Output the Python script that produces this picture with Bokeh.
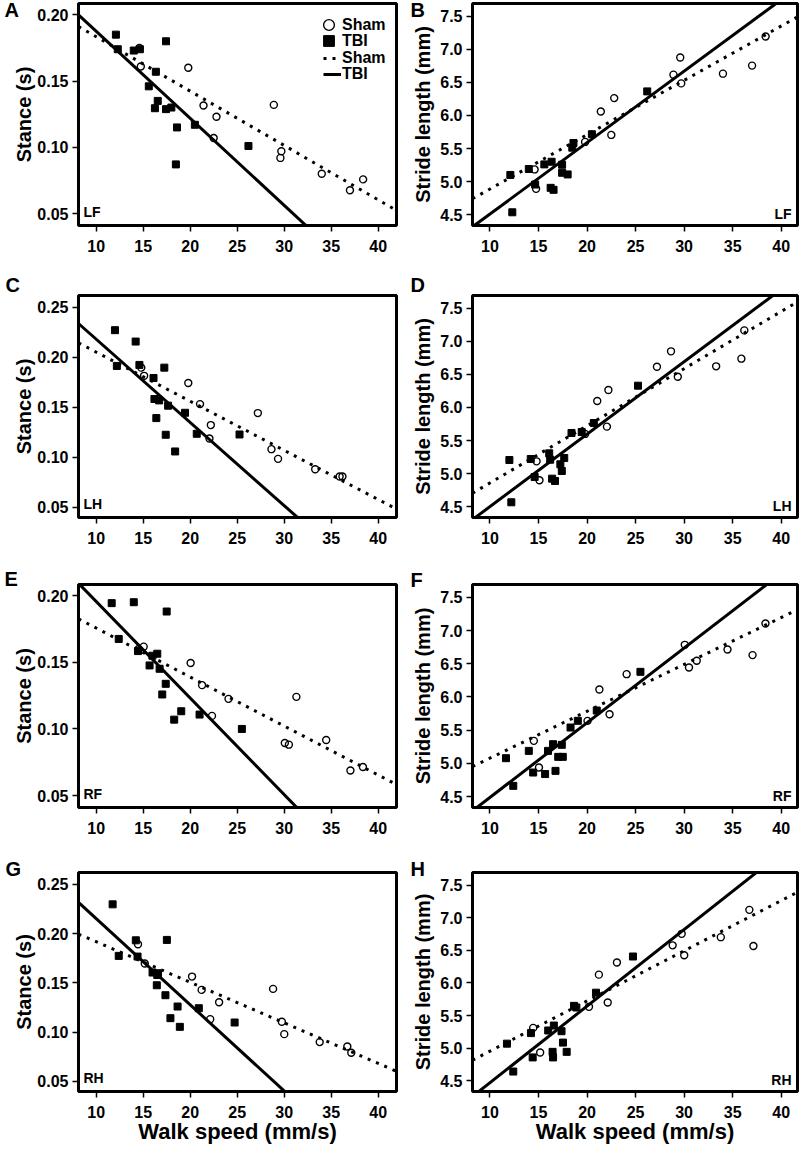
from bokeh.plotting import figure
from bokeh.layouts import column, row
from bokeh.models import Label, Legend, LegendItem, FixedTicker, Title
from bokeh.embed import file_html
from bokeh.resources import INLINE

FONT = "Liberation Sans"

# ---------------- tick values / labels ----------------
x_ticks = [10, 15, 20, 25, 30, 35, 40]
x_tick_labels = ["10", "15", "20", "25", "30", "35", "40"]
stance4_ticks = [0.05, 0.10, 0.15, 0.20]
stance4_labels = ["0.05", "0.10", "0.15", "0.20"]
stance5_ticks = [0.05, 0.10, 0.15, 0.20, 0.25]
stance5_labels = ["0.05", "0.10", "0.15", "0.20", "0.25"]
stride_ticks = [4.5, 5.0, 5.5, 6.0, 6.5, 7.0, 7.5]
stride_labels = ["4.5", "5.0", "5.5", "6.0", "6.5", "7.0", "7.5"]

# ---------------- data: LF (A, B) ----------------
lf_sham_speed = [14.6, 14.75, 19.8, 21.42, 22.5, 22.8, 28.9, 29.6, 29.7, 34.0, 37.0, 38.4]
lf_sham_stance = [0.175, 0.161, 0.160, 0.1315, 0.107, 0.123, 0.132, 0.092, 0.097, 0.080, 0.0676, 0.0758]
lf_sham_stride = [5.184, 4.89, 5.60, 6.06, 5.706, 6.263, 6.618, 6.877, 6.486, 6.633, 6.755, 7.196]
lf_tbi_speed = [12.1, 12.3, 14.0, 14.65, 15.6, 16.25, 16.35, 16.55, 17.43, 17.43, 18.0, 18.48, 18.6, 20.5, 26.2]
lf_tbi_stance = [0.185, 0.174, 0.173, 0.174, 0.146, 0.1295, 0.157, 0.135, 0.180, 0.1288, 0.130, 0.0871, 0.115, 0.117, 0.101]
lf_tbi_stride = [5.10, 4.535, 5.19, 4.955, 5.26, 4.905, 5.30, 4.875, 5.255, 5.133, 5.108, 5.513, 5.584, 5.716, 6.365]

# ---------------- data: LH (C, D) ----------------
lh_sham_speed = [14.8, 15.1, 19.8, 21.05, 22.05, 22.2, 27.2, 28.65, 29.35, 33.3, 35.9, 36.2]
lh_sham_stance = [0.1898, 0.1816, 0.1744, 0.1533, 0.1189, 0.1323, 0.1443, 0.1082, 0.0985, 0.0881, 0.0808, 0.0808]
lh_sham_stride = [5.185, 4.898, 5.60, 6.098, 5.71, 6.264, 6.617, 6.85, 6.466, 6.623, 6.739, 7.167]
lh_tbi_speed = [12.0, 12.2, 14.2, 14.6, 16.1, 16.2, 16.4, 16.7, 17.25, 17.4, 17.65, 18.4, 19.45, 20.7, 25.25]
lh_tbi_stance = [0.2273, 0.1915, 0.2159, 0.1925, 0.1794, 0.1584, 0.1393, 0.157, 0.1898, 0.1226, 0.1517, 0.1059, 0.1446, 0.1236, 0.1229]
lh_tbi_stride = [5.205, 4.565, 5.22, 4.948, 5.306, 5.21, 4.923, 4.888, 5.14, 5.039, 5.236, 5.614, 5.629, 5.765, 6.33]

# ---------------- data: RF (E, F) ----------------
rf_sham_speed = [14.52, 15.05, 20.05, 21.27, 22.32, 24.08, 30.07, 30.5, 31.3, 34.47, 37.05, 38.38]
rf_sham_stance = [0.160, 0.1618, 0.1495, 0.1329, 0.1098, 0.1226, 0.0894, 0.0882, 0.1241, 0.0917, 0.0688, 0.0714]
rf_sham_stride = [5.339, 4.937, 5.64, 6.113, 5.741, 6.344, 6.786, 6.445, 6.545, 6.716, 6.631, 7.108]
rf_tbi_speed = [11.65, 12.4, 14.0, 14.45, 15.68, 15.98, 16.5, 16.75, 17.03, 17.4, 17.5, 18.3, 19.05, 21.0, 25.5]
rf_tbi_stance = [0.1945, 0.1676, 0.1952, 0.1585, 0.1477, 0.155, 0.1565, 0.1452, 0.1259, 0.1339, 0.1882, 0.107, 0.1133, 0.1108, 0.100]
rf_tbi_stride = [5.078, 4.661, 5.188, 4.862, 4.839, 5.188, 5.289, 4.887, 5.098, 5.279, 5.098, 5.54, 5.641, 5.796, 6.379]

# ---------------- data: RH (G, H) ----------------
rh_sham_speed = [14.45, 15.17, 20.2, 21.22, 22.13, 23.08, 28.82, 29.75, 30.01, 33.78, 36.72, 37.14]
rh_sham_stance = [0.1892, 0.1696, 0.1564, 0.1429, 0.1132, 0.1304, 0.1439, 0.1105, 0.098, 0.0899, 0.0855, 0.0791]
rh_sham_stride = [5.311, 4.933, 5.634, 6.128, 5.70, 6.315, 6.577, 6.754, 6.426, 6.703, 7.122, 6.567]
rh_tbi_speed = [11.75, 12.4, 14.22, 14.4, 16.0, 16.45, 16.5, 16.58, 17.37, 17.52, 17.9, 18.66, 18.9, 20.92, 24.73]
rh_tbi_stance = [0.2297, 0.1774, 0.1932, 0.1767, 0.1605, 0.1476, 0.158, 0.1598, 0.1375, 0.1936, 0.1142, 0.126, 0.1054, 0.1243, 0.1098]
rh_tbi_stride = [5.069, 4.641, 5.231, 4.858, 5.271, 4.943, 4.858, 5.347, 5.26, 5.085, 4.943, 5.649, 5.624, 5.851, 6.406]

# ---------------- regression lines (slope, intercept) ----------------
fit_A = {"sham": (-0.0041, 0.2244), "tbi": (-0.00657, 0.2533)}
fit_B = {"sham": (0.0822, 4.066), "tbi": (0.1081, 3.428)}
fit_C = {"sham": (-0.004916, 0.2545), "tbi": (-0.00833, 0.3016)}
fit_D = {"sham": (0.0865, 3.993), "tbi": (0.1096, 3.404)}
fit_E = {"sham": (-0.00368, 0.2126), "tbi": (-0.007253, 0.2683)}
fit_F = {"sham": (0.0706, 4.373), "tbi": (0.1125, 3.362)}
fit_G = {"sham": (-0.004114, 0.2329), "tbi": (-0.00874, 0.3026)}
fit_H = {"sham": (0.0770, 4.184), "tbi": (0.1175, 3.295)}

# axis ranges
x_range_left = (8.12, 41.95)
x_range_right = (8.2, 41.68)
stance4_range = (0.041, 0.2085)
stance5_range = (0.0398, 0.262)
stride_range = (4.335, 7.695)


def style_axis(ax, ticks, labels, standoff, size="16px"):
    ax.ticker = FixedTicker(ticks=ticks)
    ax.major_label_overrides = {t: l for t, l in zip(ticks, labels)}
    ax.axis_line_color = None
    ax.major_tick_out = 6
    ax.major_tick_in = 0
    ax.major_tick_line_width = 1.5
    ax.major_tick_line_color = "black"
    ax.minor_tick_line_color = None
    ax.major_label_text_font = FONT
    ax.major_label_text_font_style = "bold"
    ax.major_label_text_font_size = size
    ax.major_label_text_color = "black"
    ax.major_label_standoff = standoff
    ax.axis_label_text_color = "black"
    ax.axis_label_text_font = FONT
    ax.axis_label_text_font_style = "bold"


def one_legend(label, renderer, vx, vy, gw, gh, standoff):
    return Legend(items=[LegendItem(label=label, renderers=[renderer])],
                  location=(vx, vy), glyph_width=gw, glyph_height=gh,
                  label_height=16, spacing=0, label_standoff=standoff,
                  padding=0, margin=0, background_fill_alpha=0, border_line_alpha=0,
                  label_text_font=FONT, label_text_font_style="bold",
                  label_text_font_size="16px", label_text_color="black", level="overlay")


def make_panel(letter, corner, ylabel, xr, yr, yticks, ylabels, sham_x, sham_y, tbi_x, tbi_y, fit,
               width, height, bl, br, bt, bb, right_side, letter_dx, letter_standoff, letter_valign,
               xlabel=None, legend=False):
    p = figure(width=width, height=height, x_range=xr, y_range=yr,
               output_backend="svg", toolbar_location=None,
               min_border_left=bl, min_border_right=br, min_border_top=bt, min_border_bottom=bb)
    p.grid.visible = False
    p.outline_line_color = "black"
    p.outline_line_width = 3
    p.background_fill_color = "white"
    p.border_fill_color = "white"

    style_axis(p.xaxis[0], x_ticks, x_tick_labels, 8)
    style_axis(p.yaxis[0], yticks, ylabels, 4)
    p.yaxis.axis_label = ylabel
    p.yaxis.axis_label_text_font_size = "20px"
    p.yaxis.axis_label_standoff = 3 if right_side else -1
    if xlabel:
        p.xaxis.axis_label = xlabel
        p.xaxis.axis_label_text_font_size = "22px"
        p.xaxis.axis_label_standoff = -2

    xs = [xr[0], xr[1]]
    ss, si = fit["sham"]
    ts, ti = fit["tbi"]
    sham_line = p.line(xs, [si + ss * v for v in xs], line_color="black", line_width=3,
                       line_dash="3 6")
    tbi_line = p.line(xs, [ti + ts * v for v in xs], line_color="black", line_width=3)
    sham_pts = p.scatter(sham_x, sham_y, marker="circle", size=7, fill_color=None,
                         line_color="black", line_width=1.4)
    tbi_pts = p.scatter(tbi_x, tbi_y, marker="square", size=7, fill_color="black",
                        line_color="black")

    if right_side:
        p.add_layout(Label(x=xr[1], y=yr[0], x_offset=-6, y_offset=12, text=corner,
                           text_align="right", text_baseline="alphabetic", text_color="black",
                           text_font=FONT, text_font_style="bold", text_font_size="14px"))
    else:
        p.add_layout(Label(x=xr[0], y=yr[0], x_offset=5, y_offset=14, text=corner,
                           text_align="left", text_baseline="alphabetic", text_color="black",
                           text_font=FONT, text_font_style="bold", text_font_size="14px"))

    p.add_layout(Title(text=letter, align="left", offset=letter_dx, standoff=letter_standoff,
                       vertical_align=letter_valign,
                       text_color="black", text_font=FONT, text_font_style="bold",
                       text_font_size="20px"), "above")

    if legend:
        fh = height - bt - bb
        p.add_layout(one_legend("Sham", sham_pts, 237, fh - 35, 27, 27, -7))
        p.add_layout(one_legend("TBI", tbi_pts, 237, fh - 51, 27, 27, -7))
        p.add_layout(one_legend("Sham", sham_line, 245, fh - 67, 18, 24, 1))
        p.add_layout(one_legend("TBI", tbi_line, 245, fh - 83, 18, 24, 1))
    return p


LW, RW = 400, 400
LBL, LBR = 78, 4
RBL, RBR = 72, 3
STANCE = "Stance (s)"
STRIDE = "Stride length (mm)"
WALK = "Walk speed (mm/s)"

# row 1 (height 270: frame 3..225)
pA = make_panel("A", "LF", STANCE, x_range_left, stance4_range, stance4_ticks, stance4_labels,
                lf_sham_speed, lf_sham_stance, lf_tbi_speed, lf_tbi_stance, fit_A,
                LW, 270, LBL, LBR, 3, 45, False, -74, -34, "bottom", legend=True)
pB = make_panel("B", "LF", STRIDE, x_range_right, stride_range, stride_ticks, stride_labels,
                lf_sham_speed, lf_sham_stride, lf_tbi_speed, lf_tbi_stride, fit_B,
                RW, 270, RBL, RBR, 3, 45, True, -62, -34, "bottom")
# row 2 (height 289: frame 295..517)
pC = make_panel("C", "LH", STANCE, x_range_left, stance5_range, stance5_ticks, stance5_labels,
                lh_sham_speed, lh_sham_stance, lh_tbi_speed, lh_tbi_stance, fit_C,
                LW, 289, LBL, LBR, 25, 42, False, -73, 0, "bottom")
pD = make_panel("D", "LH", STRIDE, x_range_right, stride_range, stride_ticks, stride_labels,
                lh_sham_speed, lh_sham_stride, lh_tbi_speed, lh_tbi_stride, fit_D,
                RW, 289, RBL, RBR, 25, 42, True, -62, 0, "bottom")
# row 3 (height 288: frame 584..807)
pE = make_panel("E", "RF", STANCE, x_range_left, stance4_range, stance4_ticks, stance4_labels,
                rf_sham_speed, rf_sham_stance, rf_tbi_speed, rf_tbi_stance, fit_E,
                LW, 288, LBL, LBR, 25, 40, False, -74, -15, "top")
pF = make_panel("F", "RF", STRIDE, x_range_right, stride_range, stride_ticks, stride_labels,
                rf_sham_speed, rf_sham_stride, rf_tbi_speed, rf_tbi_stride, fit_F,
                RW, 288, RBL, RBR, 25, 40, True, -62, -16, "top")
# row 4 (height 301: frame 872..1091)
pG = make_panel("G", "RH", STANCE, x_range_left, stance5_range, stance5_ticks, stance5_labels,
                rh_sham_speed, rh_sham_stance, rh_tbi_speed, rh_tbi_stance, fit_G,
                LW, 301, LBL, LBR, 25, 57, False, -73, -29, "top", xlabel=WALK)
pH = make_panel("H", "RH", STRIDE, x_range_right, stride_range, stride_ticks, stride_labels,
                rh_sham_speed, rh_sham_stride, rh_tbi_speed, rh_tbi_stride, fit_H,
                RW, 301, RBL, RBR, 25, 57, True, -62, -29, "top", xlabel=WALK)

layout = column(row(pA, pB), row(pC, pD), row(pE, pF), row(pG, pH))
open("out.html", "w").write(file_html(layout, INLINE))
